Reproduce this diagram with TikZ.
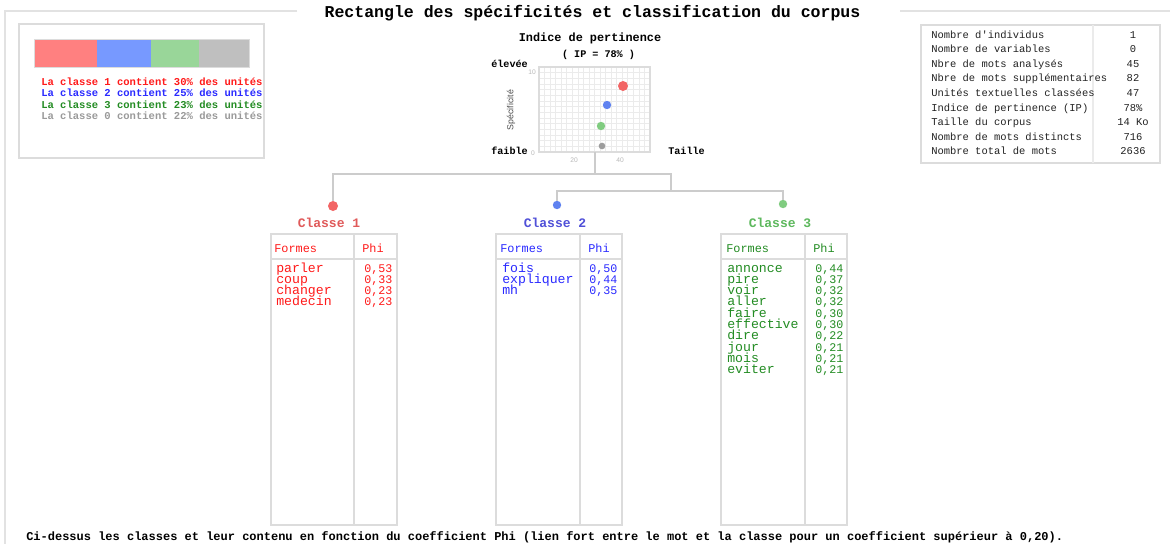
\documentclass[tikz,border=0pt]{standalone}
\usepackage{fontspec}
\setmainfont{Liberation Mono}[Ligatures=TeXOff]
\newfontfamily\sansf{Liberation Sans}
\definecolor{framegray}{HTML}{E2E2E2}
\definecolor{boxgray}{HTML}{DCDCDC}
\definecolor{gridgray}{HTML}{EBEBEB}
\definecolor{treegray}{HTML}{CCCCCC}
\definecolor{cred}{HTML}{FF1A1A}
\definecolor{cblue}{HTML}{2A2AFF}
\definecolor{cgreen}{HTML}{238C23}
\definecolor{cgray}{HTML}{9A9A9A}
\definecolor{barred}{HTML}{FF8080}
\definecolor{barblue}{HTML}{7799FF}
\definecolor{bargreen}{HTML}{99D699}
\definecolor{bargray}{HTML}{BFBFBF}
\definecolor{lblred}{HTML}{E05A5A}
\definecolor{lblblue}{HTML}{5050D8}
\definecolor{lblgreen}{HTML}{5DB85D}
\definecolor{dotred}{HTML}{F26565}
\definecolor{dotblue}{HTML}{5F82F0}
\definecolor{dotgreen}{HTML}{80CC80}
\definecolor{dotgray}{HTML}{9C9C9C}
\definecolor{stattxt}{HTML}{222222}
\begin{document}
\begin{tikzpicture}[x=0.75pt,y=-0.75pt,
  frameline/.style={draw=framegray, line width=1.5pt},
  boxline/.style={draw=boxgray, line width=1.1pt},
  treeline/.style={draw=treegray, line width=1.1pt},
  txt/.style={inner sep=0, anchor=base west},
  ctxt/.style={inner sep=0, anchor=base},
  titlefont/.style={font=\fontsize{12.4}{14}\selectfont\bfseries},
  legfont/.style={font=\fontsize{7.9}{9}\selectfont\bfseries},
  chartfont/.style={font=\fontsize{8.9}{10}\selectfont\bfseries},
  smallbold/.style={font=\fontsize{7.6}{9}\selectfont\bfseries},
  axisfont/.style={font=\sansf\fontsize{5}{6}\selectfont, text=cgray!70},
  classfont/.style={font=\fontsize{9.75}{11}\selectfont\bfseries},
  headfont/.style={font=\fontsize{8.9}{10}\selectfont},
  entryfont/.style={font=\fontsize{9.9}{8.5}\selectfont},
  phifont/.style={font=\fontsize{8.75}{8.5}\selectfont},
  statfont/.style={font=\fontsize{7.85}{9}\selectfont, text=stattxt},
  footfont/.style={font=\fontsize{9}{10}\selectfont\bfseries},
  dot/.style={circle, inner sep=0, draw=none}
]
\useasboundingbox (0,0) rectangle (1170,544);
\fill[white] (0,0) rectangle (1170,544);

% outer frame
\draw[frameline] (297,11) -- (5,11) -- (5,544);
\draw[frameline] (900,11) -- (1170,11);

% title
\node[ctxt, titlefont] (title) at (592.5,17) {Rectangle des spécificités et classification du corpus};

% legend box
\draw[boxline] (19,24) rectangle (264,158);
\fill[barred] (34,39) rectangle (97,67);
\fill[barblue] (97,39) rectangle (151,67);
\fill[bargreen] (151,39) rectangle (199,67);
\fill[bargray] (199,39) rectangle (249,67);
\draw[draw=boxgray, line width=0.6pt] (34,39) rectangle (249,67);
\node[txt, legfont, text=cred] (leg1) at (41,85) {La classe 1 contient 30\% des unités};
\node[txt, legfont, text=cblue] (leg2) at (41,96.5) {La classe 2 contient 25\% des unités};
\node[txt, legfont, text=cgreen] (leg3) at (41,108) {La classe 3 contient 23\% des unités};
\node[txt, legfont, text=cgray] (leg0) at (41,119.5) {La classe 0 contient 22\% des unités};

% chart
\node[ctxt, chartfont] (ctitle) at (590,41) {Indice de pertinence};
\node[ctxt, smallbold] (ip) at (598.5,57) {( IP = 78\% )};
\foreach \i in {1,...,19} {\draw[gridgray, line width=0.5pt] ({539+\i*111/20},67) -- ({539+\i*111/20},152);}
\foreach \j in {1,...,14} {\draw[gridgray, line width=0.5pt] (539,{67+\j*85/15}) -- (650,{67+\j*85/15});}
\draw[draw=boxgray, line width=0.9pt] (539,67) rectangle (650,152);
\node[txt, smallbold] (hi) at (491,67) {élevée};
\node[txt, smallbold] (lo) at (491,154) {faible};
\node[txt, smallbold] (taille) at (668,154) {Taille};
\node[rotate=90, font=\sansf\fontsize{6.6}{8}\selectfont, text=black!70, inner sep=0] (spec) at (511,110) {Spécificité};
\node[axisfont, inner sep=0] (t10) at (532,72) {10};
\node[axisfont, inner sep=0] (t0) at (533,153) {0};
\node[axisfont, inner sep=0] (t20) at (574,160) {20};
\node[axisfont, inner sep=0] (t40) at (620,160) {40};
\node[dot, fill=dotred, minimum size=7.5pt] (p1) at (623,86) {};
\node[dot, fill=dotblue, minimum size=6.3pt] (p2) at (607,105) {};
\node[dot, fill=dotgreen, minimum size=6.3pt] (p3) at (601,126) {};
\node[dot, fill=dotgray, minimum size=5pt] (p0) at (602,146) {};

% tree
\coordinate (root) at (595,152);
\coordinate (j2) at (671,174);
\coordinate (j3) at (671,191);
\node[dot, fill=dotred, minimum size=7.5pt] (d1) at (333,206) {};
\node[dot, fill=dotblue, minimum size=6.3pt] (d2) at (557,205) {};
\node[dot, fill=dotgreen, minimum size=6.3pt] (d3) at (783,204) {};
\draw[treeline] (root) -- (root |- j2);
\draw[treeline] (d1) |- (j2) -- (j3);
\draw[treeline] (d2) |- (j3) -| (d3);

% class labels
\node[ctxt, classfont, text=lblred] (c1) at (329,227) {Classe 1};
\node[ctxt, classfont, text=lblblue] (c2) at (555,227) {Classe 2};
\node[ctxt, classfont, text=lblgreen] (c3) at (780,227) {Classe 3};

% tables
\foreach \xa/\xd/\xb in {271/354/397, 496/580/622, 721/805/847} {
  \draw[boxline] (\xa,234) rectangle (\xb,525);
  \draw[boxline] (\xd,234) -- (\xd,525);
  \draw[boxline] (\xa,259) -- (\xb,259);
}
\node[txt, headfont, text=cred] (f1) at (274,252) {Formes};
\node[txt, headfont, text=cred] (h1) at (362,252) {Phi};
\node[txt, headfont, text=cblue] (f2) at (500,252) {Formes};
\node[txt, headfont, text=cblue] (h2) at (588,252) {Phi};
\node[txt, headfont, text=cgreen] (f3) at (726,252) {Formes};
\node[txt, headfont, text=cgreen] (h3) at (813,252) {Phi};

\foreach \w/\p [count=\i from 0] in {parler/{0,53}, coup/{0,33}, changer/{0,23}, medecin/{0,23}} {
  \node[txt, entryfont, text=cred] at (276,{272+11.33*\i}) {\w};
  \node[txt, phifont, text=cred] at (364,{272+11.33*\i}) {\p};
}
\foreach \w/\p [count=\i from 0] in {fois/{0,50}, expliquer/{0,44}, mh/{0,35}} {
  \node[txt, entryfont, text=cblue] at (502,{272+11.33*\i}) {\w};
  \node[txt, phifont, text=cblue] at (589,{272+11.33*\i}) {\p};
}
\foreach \w/\p [count=\i from 0] in {annonce/{0,44}, pire/{0,37}, voir/{0,32}, aller/{0,32}, faire/{0,30}, effective/{0,30}, dire/{0,22}, jour/{0,21}, mois/{0,21}, eviter/{0,21}} {
  \node[txt, entryfont, text=cgreen] at (727,{272+11.33*\i}) {\w};
  \node[txt, phifont, text=cgreen] at (815,{272+11.33*\i}) {\p};
}

% stats table
\draw[boxline] (921,25) rectangle (1160,163);
\draw[draw=gridgray, line width=0.8pt] (1093,25) -- (1093,163);
\foreach \l/\v [count=\i from 0] in {Nombre d'individus/1, Nombre de variables/0, Nbre de mots analysés/45, Nbre de mots supplémentaires/82, Unités textuelles classées/47, Indice de pertinence (IP)/78\%, Taille du corpus/14 Ko, Nombre de mots distincts/716, Nombre total de mots/2636} {
  \node[txt, statfont] at (931,{38+14.6*\i}) {\l};
  \node[ctxt, statfont] at (1133,{38+14.6*\i}) {\v};
}

% footnote
\node[txt, footfont] (foot) at (26,540) {Ci-dessus les classes et leur contenu en fonction du coefficient Phi (lien fort entre le mot et la classe pour un coefficient supérieur à 0,20).};
\end{tikzpicture}
\end{document}
